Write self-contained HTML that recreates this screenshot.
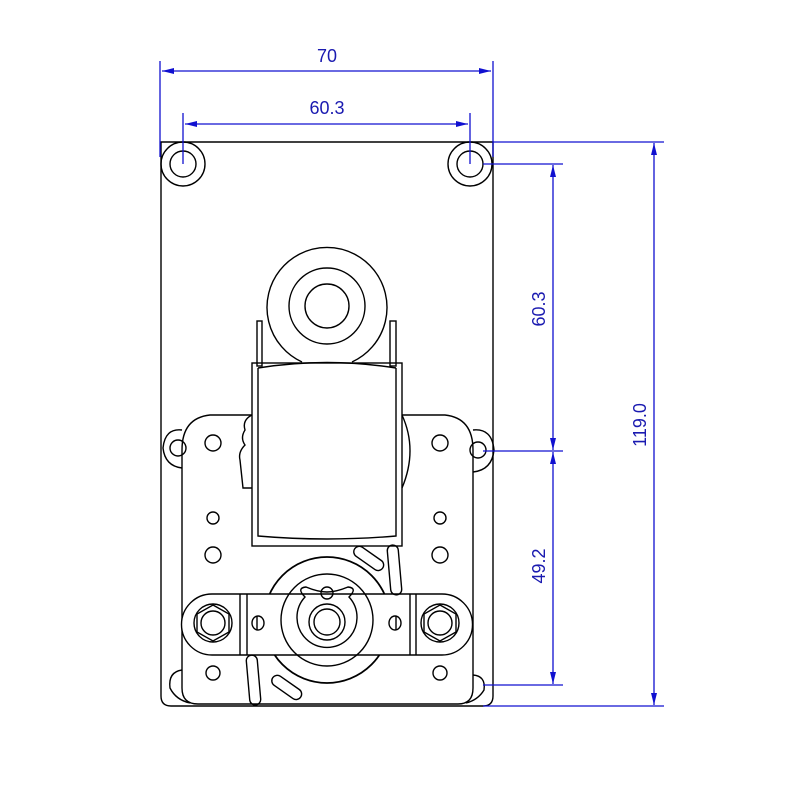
<!DOCTYPE html>
<html><head><style>body{margin:0;background:#fff}svg{display:block}</style></head><body>
<svg width="800" height="800" viewBox="0 0 800 800" xmlns="http://www.w3.org/2000/svg">
<defs>
<marker id="a" viewBox="0 0 12 6" refX="12" refY="3" markerWidth="12" markerHeight="6" orient="auto-start-reverse" markerUnits="userSpaceOnUse"><path d="M0,0 L12,3 L0,6 Z" fill="#1010d0"/></marker>
</defs>
<g fill="none" stroke="#000" stroke-width="1.4">
<!-- plate -->
<path d="M161,142 H493 V696 Q493,706 483,706 H171 Q161,706 161,696 Z"/>
<circle cx="183" cy="164" r="22"/><circle cx="183" cy="164" r="13"/>
<circle cx="470" cy="164" r="22"/><circle cx="470" cy="164" r="13"/>
<!-- top bushing -->
<path d="M302,362 A60,60 0 1 1 352,362"/>
<circle cx="327" cy="306" r="38"/><circle cx="327" cy="306" r="22"/>
<!-- tabs -->
<rect x="257" y="321" width="5" height="45"/><rect x="390" y="321" width="6" height="45"/>
<!-- coil -->
<rect x="252" y="363" width="150" height="183"/>
<path d="M258,368 Q327,357 396,368"/>
<path d="M258,368 V536 Q327,542 396,536 V368"/>
<!-- lower frame -->
<path d="M252,415 H210 Q182,418 182,450 V688 Q182,704 198,704 H458 Q473,704 473,688 V450 Q473,418 445,415 H402"/>
<path d="M252,415 Q242,420 245,430 Q240,438 245,445 Q238,452 240,460 L243,488 H252"/>
<path d="M402,415 Q418,450 402,488"/>
<!-- ears -->
<path d="M182,430 Q165,428 163,448 Q165,466 182,468"/><circle cx="178" cy="448" r="8"/>
<path d="M473,430 Q492,428 494,450 Q492,470 473,472"/><circle cx="478" cy="450" r="8"/>
<path d="M182,670 Q168,672 170,688 Q176,700 190,703"/>
<path d="M473,675 Q486,676 484,690 Q478,700 466,703"/>
<!-- holes -->
<circle cx="213" cy="443" r="8"/><circle cx="213" cy="518" r="6"/><circle cx="213" cy="555" r="8"/><circle cx="213" cy="673" r="7"/>
<circle cx="440" cy="443" r="8"/><circle cx="440" cy="518" r="6"/><circle cx="440" cy="555" r="8"/><circle cx="440" cy="673" r="7"/>
<!-- big circle -->
<circle cx="327" cy="620" r="63" stroke-width="1.8"/>
<!-- bar -->
<path d="M212,594 H442 A30.5,30.5 0 0 1 442,655 H212 A30.5,30.5 0 0 1 212,594 Z" fill="#fff"/>
<line x1="240" y1="594" x2="240" y2="655"/><line x1="247" y1="594" x2="247" y2="655"/>
<line x1="410" y1="594" x2="410" y2="655"/><line x1="416" y1="594" x2="416" y2="655"/>
<circle cx="327" cy="620" r="46"/>
<path d="M305,597 Q296,588 306,587 Q318,592 327,592 Q336,592 348,587 Q358,588 349,597 A30,30 0 1 1 305,597 Z"/>
<circle cx="327" cy="593" r="6"/>
<circle cx="327" cy="622" r="18"/><circle cx="327" cy="622" r="13"/>
<circle cx="213" cy="623" r="19"/><path d="M213,605 L229,614 L229,632 L213,641 L197,632 L197,614 Z"/><circle cx="213" cy="623" r="12"/>
<circle cx="440" cy="623" r="19"/><path d="M440,605 L456,614 L456,632 L440,641 L424,632 L424,614 Z"/><circle cx="440" cy="623" r="12"/>
<ellipse cx="258" cy="623" rx="6" ry="7"/><line x1="257" y1="616" x2="257" y2="630"/>
<ellipse cx="395" cy="623" rx="6" ry="7"/><line x1="396" y1="616" x2="396" y2="630"/>
<!-- slots -->
<rect x="352" y="553" width="34" height="11" rx="5.5" transform="rotate(35 369 558)"/>
<rect x="389" y="545" width="11" height="50" rx="5.5" transform="rotate(-5 394 570)"/>
<rect x="270" y="682" width="34" height="11" rx="5.5" transform="rotate(35 287 687)"/>
<rect x="248" y="655" width="11" height="50" rx="5.5" transform="rotate(-5 254 680)"/>
</g>
<!-- dimensions -->
<g stroke="#1010d0" stroke-width="1.3" fill="none">
<line x1="160" y1="61" x2="160" y2="157"/><line x1="493" y1="61" x2="493" y2="157"/>
<line x1="162" y1="71" x2="491" y2="71" marker-start="url(#a)" marker-end="url(#a)"/>
<line x1="183" y1="113" x2="183" y2="164"/><line x1="470" y1="113" x2="470" y2="164"/>
<line x1="185" y1="124" x2="468" y2="124" marker-start="url(#a)" marker-end="url(#a)"/>
<line x1="493" y1="142" x2="664" y2="142"/><line x1="483" y1="164" x2="563" y2="164"/>
<line x1="483" y1="451" x2="563" y2="451"/><line x1="483" y1="685" x2="563" y2="685"/>
<line x1="483" y1="706" x2="664" y2="706"/>
<line x1="553" y1="165" x2="553" y2="450" marker-start="url(#a)" marker-end="url(#a)"/>
<line x1="553" y1="452" x2="553" y2="684" marker-start="url(#a)" marker-end="url(#a)"/>
<line x1="654" y1="143" x2="654" y2="705" marker-start="url(#a)" marker-end="url(#a)"/>
</g>
<g fill="#1a1ab0" font-family="Liberation Sans, sans-serif" font-size="18" text-anchor="middle">
<text x="327" y="62">70</text>
<text x="327" y="114">60.3</text>
<text transform="translate(545,309) rotate(-90)">60.3</text>
<text transform="translate(545,566) rotate(-90)">49.2</text>
<text transform="translate(646,425) rotate(-90)">119.0</text>
</g>
</svg>
</body></html>
